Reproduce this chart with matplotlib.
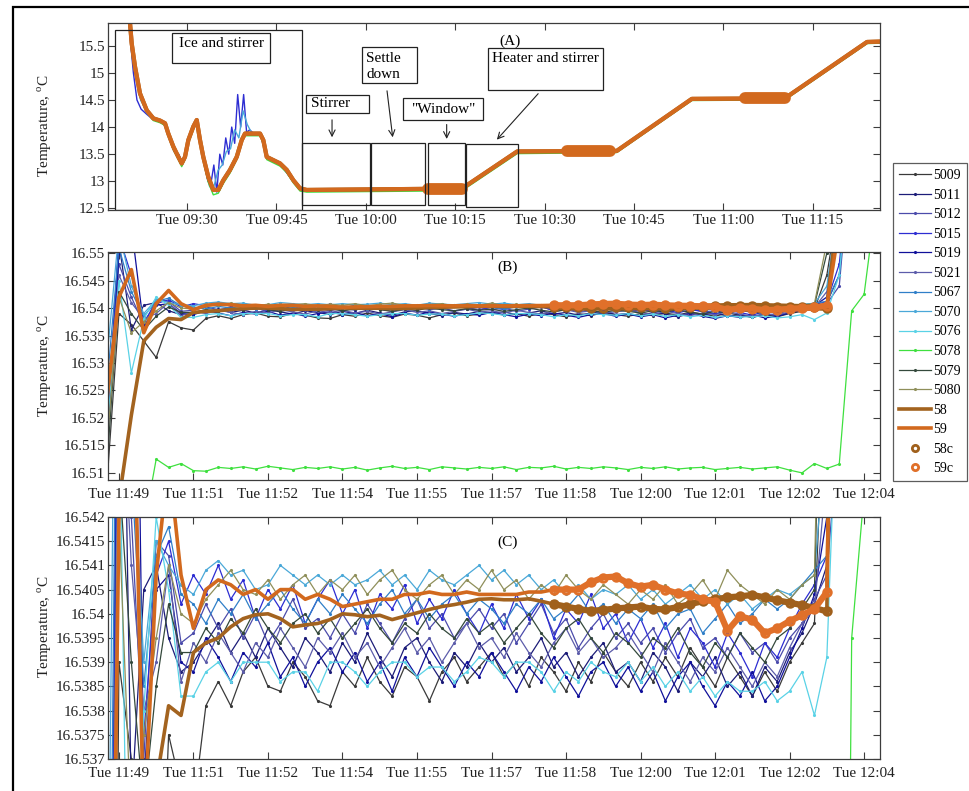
"""Three-panel thermometer comparison: full run (A), settled bath (B) and zoom (C)."""

import matplotlib
matplotlib.use("Agg")
import matplotlib.pyplot as plt
import numpy as np
from matplotlib.patches import Rectangle

plt.rcParams["font.family"] = ["Liberation Serif", "DejaVu Serif"]
plt.rcParams["mathtext.fontset"] = "custom"
plt.rcParams["mathtext.rm"] = "Liberation Serif"

# ---------------- panel A: whole run, minutes after 09:00 ----------------
A_T = [20.0, 20.44, 20.72, 21.28, 22.11, 23.24, 24.35, 25.47, 26.31, 26.86,
       27.70, 28.54, 29.11, 29.66, 30.22, 31.06, 31.63, 32.18, 32.73, 33.57,
       34.41, 35.25, 36.09, 37.21, 38.34, 39.18, 39.73, 42.25, 42.80, 43.37,
       44.48, 45.60, 46.73, 47.84, 48.96, 50.08, 70.4, 76.1, 76.6, 85.4,
       102.1, 114.7, 130.3, 144.1, 147.0]
A_BASE = [16.3, 15.91, 15.54, 15.11, 14.62, 14.31, 14.16, 14.12, 14.07, 13.88,
          13.64, 13.45, 13.33, 13.45, 13.76, 14.01, 14.13, 13.76, 13.45, 13.08,
          12.84, 12.84, 13.02, 13.21, 13.45, 13.76, 13.88, 13.88, 13.76, 13.45,
          13.39, 13.33, 13.21, 13.02, 12.87, 12.84, 12.86, 12.86, 12.90, 13.55,
          13.56, 14.52, 14.53, 15.57, 15.58]
A_GREEN = [16.25, 15.85, 15.48, 15.05, 14.57, 14.27, 14.12, 14.08, 14.03, 13.83,
           13.58, 13.40, 13.27, 13.40, 13.70, 13.96, 14.08, 13.70, 13.38, 12.98,
           12.75, 12.78, 12.96, 13.15, 13.40, 13.72, 13.84, 13.84, 13.70, 13.40,
           13.34, 13.28, 13.16, 12.97, 12.82, 12.80, 12.82, 12.82, 12.86, 13.51,
           13.53, 14.49, 14.50, 15.54, 15.55]
A_T_BLUE = [20.0, 20.5, 21.0, 21.6, 22.3, 23.2, 24.4, 25.5, 26.4, 27.0,
            27.8, 28.6, 29.2, 29.8, 30.3, 31.0, 31.6, 32.2, 32.8, 33.5,
            34.0, 34.5, 35.0, 35.5, 36.0, 36.5, 37.0, 37.5, 38.0, 38.5,
            39.0, 39.5, 40.0, 40.5, 41.0, 42.3, 43.4, 45.6, 47.8, 49.0,
            50.1, 70.4, 76.1, 76.6, 85.4, 102.1, 114.7, 130.3, 144.1, 147.0]
A_BLUE = [16.3, 15.6, 15.0, 14.5, 14.33, 14.24, 14.13, 14.1, 14.04, 13.85,
          13.55, 13.5, 13.35, 13.5, 13.8, 14.0, 14.1, 13.7, 13.4, 13.0,
          12.95, 13.3, 12.8, 13.5, 13.3, 13.8, 13.5, 14.0, 13.7, 14.6,
          14.0, 14.6, 13.9, 13.95, 13.9, 13.87, 13.45, 13.32, 13.0, 12.86,
          12.83, 12.85, 12.85, 12.9, 13.56, 13.56, 14.53, 14.53, 15.58, 15.58]
A_T_CYAN = [20.0, 20.6, 21.3, 22.2, 23.3, 24.5, 25.6, 26.5, 27.3, 28.0,
            28.6, 29.2, 29.8, 30.4, 31.1, 31.7, 32.3, 33.0, 33.8, 34.5,
            35.2, 35.9, 36.6, 37.3, 38.0, 38.7, 39.4, 40.1, 40.8, 42.3,
            43.4, 45.6, 47.8, 49.0, 50.1, 70.4, 76.1, 76.6, 85.4, 102.1,
            114.7, 130.3, 144.1, 147.0]
A_CYAN = [16.3, 15.55, 15.0, 14.5, 14.28, 14.13, 14.1, 14.0, 13.75, 13.55,
          13.45, 13.35, 13.55, 13.85, 14.05, 14.05, 13.65, 13.25, 12.9, 12.9,
          13.2, 13.3, 13.55, 13.6, 13.95, 13.8, 14.3, 14.05, 13.9, 13.86,
          13.44, 13.32, 13.0, 12.86, 12.83, 12.85, 12.85, 12.9, 13.56, 13.56,
          14.52, 14.52, 15.57, 15.57]
# averaging windows (58c / 59c) of the whole run
WIN_START = [70.4, 93.8, 123.6]
WIN_END = [76.1, 101.0, 130.3]
WIN_TEMP = [12.86, 13.56, 14.53]
A_TICKS = [30, 45, 60, 75, 90, 105, 120, 135]
A_TICK_LABELS = ["Tue 09:30", "Tue 09:45", "Tue 10:00", "Tue 10:15",
                 "Tue 10:30", "Tue 10:45", "Tue 11:00", "Tue 11:15"]
A_YTICKS = [12.5, 13, 13.5, 14, 14.5, 15, 15.5]
A_YTICK_LABELS = ["12.5", "13", "13.5", "14", "14.5", "15", "15.5"]

# ------- panels B and C: 15 s samples, minutes after 11:49 -------
# values are offsets from 16.54 degC in units of 0.1 mK
SAMPLE_START = 0.25
SAMPLE_STEP = 0.25
BASE_TEMP = 16.54
UNIT = 1e-4

S5009 = [-330, -10, -30, -60, -90, -25, -36,
         -40, -19, -14, -19, -12, -9, -15, -16, -10, -13, -18, -19,
         -12, -15, -9, -14, -17, -11, -13, -18, -12, -9, -14, -11,
         -8, -13, -10, -15, -9, -12, -16, -10, -14, -8, -12, -15,
         -10, -14, -9, -13, -7, -11, -15, -9, -13, -17, -12, -16,
         -10, -6, -2, 60, 200, 300, 300, 300]
S5011 = [-230, 120, -40, 5, 10, -5, -12,
         -10, -6, -2, -8, -4, -9, -3, -7, -11, -5, -8, -12,
         -6, -10, -4, -9, -13, -7, -5, -10, -14, -8, -11, -6,
         -10, -7, -12, -9, -5, -11, -8, -13, -9, -6, -12, -10,
         -14, -8, -11, -16, -10, -13, -9, -15, -12, -17, -11, -14,
         -8, -4, 2, 10, 60, 300, 300, 300]
S5012 = [-200, 80, 20, -30, 15, 12, -6,
         -4, 2, -3, 1, -5, 0, -6, -2, 3, -3, -1, -5,
         0, -4, 2, -2, -6, -1, 3, -3, 0, -5, -2, 1,
         -3, 0, -6, -2, 2, -4, -1, -7, -3, 0, -5, -2,
         -6, -3, -8, -4, -1, -7, -5, -9, -4, -8, -6, -10,
         -5, -2, 3, 8, 40, 300, 300, 300]
S5015 = [-260, 130, 60, -25, 8, 15, 2,
         8, 4, 10, 3, 7, -1, 5, 1, 6, -2, 3, 7,
         0, 5, -3, 4, 1, 6, -2, 3, -1, 5, 0, -4,
         2, -3, 4, -1, 3, -5, 1, -2, 4, -3, 0, -6,
         -1, -7, -2, -9, -3, -6, -11, -4, -8, -13, -6, -9,
         -3, 2, 6, 12, 80, 300, 300, 300]
S5019 = [-280, 100, 150, -35, 5, 8, -10,
         -12, -5, -9, -14, -8, -11, -6, -13, -9, -15, -10, -7,
         -12, -8, -14, -10, -16, -9, -13, -7, -11, -15, -10, -13,
         -8, -12, -16, -11, -14, -9, -13, -17, -12, -10, -15, -11,
         -16, -12, -18, -13, -10, -15, -19, -14, -17, -12, -18, -15,
         -9, -3, 4, 20, 150, 300, 300, 300]
S5021 = [-180, 60, 10, -20, -10, 10, -14,
         -6, -10, -4, -8, -12, -6, -9, -3, -7, -11, -5, -8,
         -4, -9, -6, -11, -7, -3, -8, -5, -10, -6, -2, -7,
         -5, -9, -4, -8, -11, -6, -3, -8, -5, -9, -7, -4,
         -8, -12, -6, -10, -14, -9, -12, -7, -11, -15, -10, -13,
         -7, -2, 1, 30, 200, 300, 300, 300]
S5067 = [-150, 110, 30, -15, 12, 18, 4,
         2, -2, 3, 0, 4, -1, 2, 5, 1, -2, 3, 0,
         4, 1, -2, 2, 5, 0, 3, -1, 2, 4, 0, 3,
         1, -2, 2, 0, 3, -1, 1, 4, 0, 2, -2, 1,
         -1, 2, -3, 0, 1, -4, -1, 2, -2, 0, 3, 1,
         3, 6, 9, 12, 60, 300, 300, 300]
S5070 = [-100, 140, 40, -10, 15, 10, 6,
         4, 9, 11, 8, 9, 5, 6, 10, 8, 6, 8, 6,
         8, 6, 7, 9, 6, 8, 5, 9, 7, 6, 8, 10,
         7, 9, 6, 8, 5, 7, 4, 6, 3, 5, 4, 6,
         3, 5, 2, 4, 6, 3, 5, 2, 4, 1, 3, 5,
         4, 6, 8, 40, 200, 300, 300, 300]
S5076 = [-240, 50, -118, -20, 20, 5, -17,
         -17, -12, -10, -14, -10, -10, -10, -14, -12, -12, -16, -10,
         -10, -12, -15, -12, -10, -10, -13, -11, -11, -14, -12, -9,
         -10, -13, -10, -10, -12, -16, -12, -14, -10, -12, -13, -10,
         -14, -11, -15, -12, -16, -13, -17, -14, -16, -16, -14, -18,
         -16, -12, -21, -9, 60, 300, 300, 300]
S5078 = [-400, -400, -400, -400, -275, -290, -283,
         -296, -297, -290, -292, -289, -293, -288, -291, -294, -290, -292, -289,
         -293, -290, -295, -291, -288, -292, -290, -294, -289, -291, -293, -290,
         -292, -289, -294, -290, -291, -288, -293, -290, -292, -289, -291, -294,
         -290, -292, -289, -293, -291, -290, -294, -292, -290, -293, -291, -289,
         -295, -300, -283, -292, -284, -5, 25, 200]
S5079 = [-300, 30, -10, -40, -15, 2, -8,
         -8, -3, -6, -1, -4, 1, -3, -6, -2, 0, -4, -1,
         -5, -2, 1, -3, -6, -2, -4, 0, -3, -5, -1, -4,
         -2, -6, -3, 0, -4, -7, -3, -1, -5, -8, -4, -6,
         -9, -5, -7, -3, -8, -11, -6, -9, -4, -7, -10, -5,
         -3, 1, 5, 100, 300, 300, 300, 300]
S5080 = [-260, 20, -45, -25, -5, 10, 0,
         -2, 3, 6, 9, 5, 4, 7, 3, 6, 8, 4, 7,
         5, 8, 4, 7, 9, 5, 3, 6, 8, 4, 7, 5,
         9, 5, 7, 3, 6, 4, 8, 5, 3, 6, 4, 2,
         5, 3, 6, 2, 4, 7, 3, 9, 6, 4, 2, 5,
         3, 6, 8, 120, 300, 300, 300, 300]
S58 = [-400, -350, -195, -60, -35, -19, -21,
       -8, -6, -5, -2.7, -1, -0.2, 0, -1, -2.7, -2.3, -2, -1.2,
       0, -0.2, -0.6, -0.3, -1.2, -0.5, 0.2, 0.9, 1.5, 1.9, 2.4, 3.0,
       3.1, 2.9, 2.9, 3.1, 2.6, 2.0, 1.5, 1.0, 0.6, 0.8, 1.1, 1.3,
       1.5, 1.0, 0.9, 1.4, 2.0, 2.6, 3.0, 3.4, 3.6, 3.9, 3.4, 2.8,
       2.3, 1.8, 1.2, 0.5, 200, 300, 300, 300]
S59 = [-172, 20, 70, -45, 8, 32, 8,
       -3, 5, 7, 6, 4, 5, 3, 5, 5, 3, 4, 3,
       1.5, 2, 2.5, 3, 3, 4, 4, 4.5, 4, 4, 4.5, 4,
       4, 4, 4, 4.5, 4.5, 5, 5, 5, 6.5, 7.5, 7.7, 6.3,
       5.6, 6, 5, 4.2, 3.9, 3, 2.5, -3.5, -0.5, -1.2, -4, -3,
       -1.5, -0.3, 1, 4.5, 150, 300, 300, 300]
# averaging window shown as 58c / 59c (minutes after 11:49)
ZOOM_WIN = (9.1, 14.8)

ZOOM_TICKS = [0.5, 2.0, 3.5, 5.0, 6.5, 8.0, 9.5, 11.0, 12.5, 14.0, 15.5]
ZOOM_TICK_LABELS = ["Tue 11:49", "Tue 11:51", "Tue 11:52", "Tue 11:54",
                    "Tue 11:55", "Tue 11:57", "Tue 11:58", "Tue 12:00",
                    "Tue 12:01", "Tue 12:02", "Tue 12:04"]
B_YTICK_LABELS = ["16.51", "16.515", "16.52", "16.525", "16.53",
                  "16.535", "16.54", "16.545", "16.55"]
C_YTICK_LABELS = ["16.537", "16.5375", "16.538", "16.5385", "16.539", "16.5395",
                  "16.54", "16.5405", "16.541", "16.5415", "16.542"]

SENSORS = ["5009", "5011", "5012", "5015", "5019", "5021",
           "5067", "5070", "5076", "5078", "5079", "5080"]
ZOOM_DATA = dict(zip(SENSORS, [S5009, S5011, S5012, S5015, S5019, S5021,
                               S5067, S5070, S5076, S5078, S5079, S5080]))
COLORS = {
    "5009": "#3a3a3a", "5011": "#1c1c78", "5012": "#4b4bab", "5015": "#2d2dd2",
    "5019": "#10109a", "5021": "#5c5caa", "5067": "#2f7fc8", "5070": "#4aa8d8",
    "5076": "#5ad2e6", "5078": "#3fe03f", "5079": "#34493c", "5080": "#8f8f5a",
}
C58 = "#a3631f"
C59 = "#d2691e"
C58C = "#a0601c"
C59C = "#e0702a"
EDGE = "#3c3c3c"
YLABEL = "Temperature, $^{\\mathrm{o}}$C"


def style_axis(ax, xpad, label_y):
    for spine in ax.spines.values():
        spine.set_color(EDGE)
        spine.set_linewidth(0.9)
    ax.tick_params(direction="in", top=True, right=True, length=5, width=0.8,
                   color=EDGE, labelsize=11, labelcolor="#222222")
    ax.tick_params(axis="x", pad=xpad)
    ax.tick_params(axis="y", pad=2)
    ax.set_ylabel(YLABEL, fontsize=11, color="#222222")
    ax.yaxis.set_label_coords(-0.070, label_y)


def to_temp(vals):
    return BASE_TEMP + np.asarray(vals, dtype=float) * UNIT


def draw_panel_a(ax):
    a_series = {"5015": (A_T_BLUE, A_BLUE), "5070": (A_T_CYAN, A_CYAN), "5078": (A_T, A_GREEN)}
    for name in SENSORS:
        t, v = a_series.get(name, (A_T, A_BASE))
        ax.plot(t, v, color=COLORS[name], lw=1.0)
    ax.plot(A_T, A_BASE, color=C58, lw=3.0)
    ax.plot(A_T, A_BASE, color=C59, lw=3.0)
    for t0, t1, temp in zip(WIN_START, WIN_END, WIN_TEMP):
        ax.plot([t0, t1], [temp, temp], color=C59, lw=8.5, solid_capstyle="round")
    ax.set_xlim(16.74, 146.28)
    ax.set_ylim(12.47, 15.92)
    ax.set_xticks(A_TICKS, A_TICK_LABELS)
    ax.set_yticks(A_YTICKS, A_YTICK_LABELS)
    style_axis(ax, 3, 0.449)
    ax.text(0.521, 0.905, "(A)", transform=ax.transAxes, ha="center", va="center", fontsize=11)

    tr = ax.transAxes
    # stage boxes over the record
    for x0, x1, y0, y1 in [(0.0091, 0.2513, 0.0, 0.9626), (0.2509, 0.3394, 0.0267, 0.3567),
                           (0.3403, 0.4106, 0.0267, 0.3567), (0.4149, 0.4624, 0.0267, 0.3567),
                           (0.4637, 0.5315, 0.0177, 0.3513)]:
        ax.add_patch(Rectangle((x0, y0), x1 - x0, y1 - y0, transform=tr, fill=False,
                               edgecolor="#222222", lw=0.9, zorder=5))
    # label boxes
    for x0, x1, y0, y1 in [(0.0829, 0.2098, 0.7877, 0.9465), (0.2565, 0.3381, 0.5187, 0.615),
                           (0.3286, 0.3999, 0.6775, 0.870), (0.3821, 0.4858, 0.4813, 0.5973),
                           (0.4926, 0.6416, 0.6417, 0.8647)]:
        ax.add_patch(Rectangle((x0, y0), x1 - x0, y1 - y0, transform=tr, facecolor="white",
                               edgecolor="#222222", lw=0.9, zorder=6))
    ax.text(0.1464, 0.893, "Ice and stirrer", transform=tr, ha="center", va="center", fontsize=11, zorder=7)
    ax.text(0.2635, 0.567, "Stirrer", transform=tr, ha="left", va="center", fontsize=11, zorder=7)
    ax.text(0.3342, 0.770, "Settle\ndown", transform=tr, ha="left", va="center", fontsize=11,
            linespacing=1.3, zorder=7)
    ax.text(0.4339, 0.540, '"Window"', transform=tr, ha="center", va="center", fontsize=11, zorder=7)
    ax.text(0.4974, 0.8075, "Heater and stirrer", transform=tr, ha="left", va="center", fontsize=11, zorder=7)
    for start, end in [((0.2902, 0.497), (0.2902, 0.374)), ((0.361, 0.652), (0.3692, 0.374)),
                       ((0.4387, 0.472), (0.4387, 0.365)), ((0.5596, 0.633), (0.5013, 0.365))]:
        ax.annotate("", xy=end, xytext=start, xycoords=tr, textcoords=tr,
                    arrowprops=dict(arrowstyle="->", color="#222222", lw=0.8, mutation_scale=11),
                    zorder=7)


def draw_zoom_panel(ax, ylim, yticks, ytick_labels, tag, tag_y, label_y):
    times = SAMPLE_START + SAMPLE_STEP * np.arange(len(S59))
    handles = {}
    for name in SENSORS:
        (ln,) = ax.plot(times, to_temp(ZOOM_DATA[name]), color=COLORS[name], lw=0.9,
                        marker=".", ms=2.5)
        handles[name] = ln
    (h58,) = ax.plot(times, to_temp(S58), color=C58, lw=2.6)
    (h59,) = ax.plot(times, to_temp(S59), color=C59, lw=2.6)
    handles["58"], handles["59"] = h58, h59
    win = (times >= ZOOM_WIN[0]) & (times <= ZOOM_WIN[1])
    for vals, col, name in [(S58, C58C, "58c"), (S59, C59C, "59c")]:
        ax.plot(times[win], to_temp(vals)[win], color=col, lw=4.5)
        (hm,) = ax.plot(times[win], to_temp(vals)[win], ls="none", marker="o", ms=5.5,
                        mfc="none", mec=col, mew=2)
        handles[name] = hm
    ax.set_xlim(0.28, 15.82)
    ax.set_ylim(*ylim)
    ax.set_xticks(ZOOM_TICKS, ZOOM_TICK_LABELS)
    ax.set_yticks(yticks, ytick_labels)
    style_axis(ax, 6, label_y)
    ax.text(0.518, tag_y, tag, transform=ax.transAxes, ha="center", va="center", fontsize=11)
    return handles


def main():
    fig = plt.figure(figsize=(9.7, 7.91), dpi=100)
    ax_a = fig.add_axes([108 / 970, 1 - 210 / 791, 772 / 970, 187 / 791])
    ax_b = fig.add_axes([108 / 970, 1 - 480 / 791, 772 / 970, 228 / 791])
    ax_c = fig.add_axes([108 / 970, 1 - 759 / 791, 772 / 970, 242 / 791])

    draw_panel_a(ax_a)
    b_ticks = [16.51 + 0.005 * i for i in range(len(B_YTICK_LABELS))]
    c_ticks = [16.537 + 0.0005 * i for i in range(len(C_YTICK_LABELS))]
    handles = draw_zoom_panel(ax_b, (16.5087, 16.5502), b_ticks, B_YTICK_LABELS, "(B)", 0.934, 0.5)
    draw_zoom_panel(ax_c, (16.537, 16.542), c_ticks, C_YTICK_LABELS, "(C)", 0.897, 0.545)

    order = SENSORS + ["58", "59", "58c", "59c"]
    leg = fig.legend([handles[k] for k in order], order, loc="upper left",
                     bbox_to_anchor=(893 / 970, 1 - 163 / 791), fontsize=10,
                     frameon=True, fancybox=False, edgecolor="#333333",
                     handlelength=2.3, handletextpad=0.15, labelspacing=0.47,
                     borderpad=0.45, borderaxespad=0.0)
    leg.get_frame().set_linewidth(0.9)
    for h in leg.legend_handles[-2:]:
        h.set_markersize(4.5)

    # outer frame of the figure
    fig.add_artist(Rectangle((13 / 970, -0.1), 1.2, 1.1 - 7 / 791, transform=fig.transFigure,
                             fill=False, edgecolor="black", lw=1.6))
    fig.savefig("out.png", dpi=100, facecolor="white")
    plt.close(fig)


if __name__ == "__main__":
    main()
